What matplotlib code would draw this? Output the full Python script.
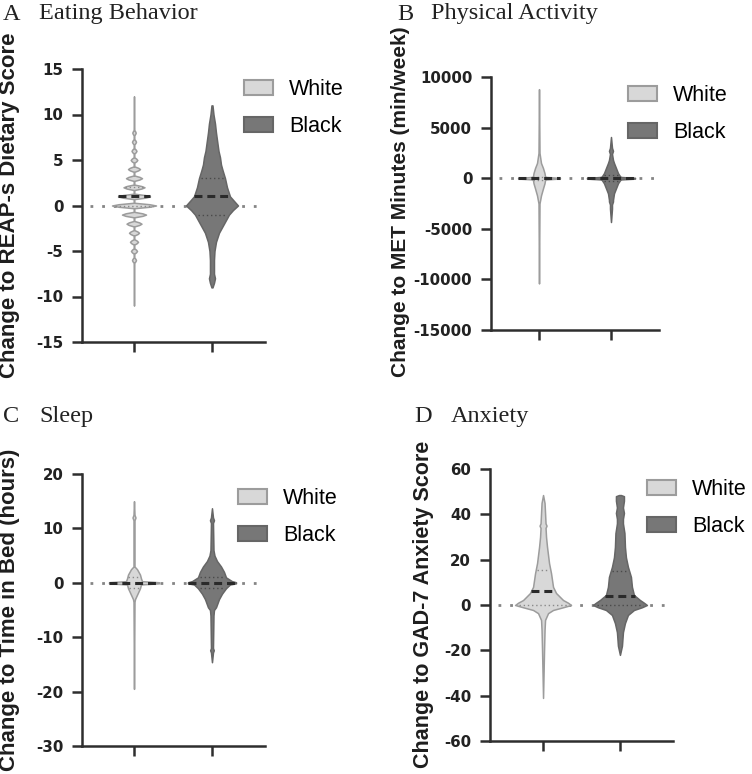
import numpy as np
import matplotlib.pyplot as plt
from matplotlib.patches import Patch

plt.rcParams['axes.unicode_minus'] = False

W, H = 752, 774

# ---- data: violin outlines as (value, half width in px) ----
groups = ['White', 'Black']

# A  Eating Behavior (REAP-s score change) - white group is integer valued
a_white_lvl = [8, 7, 6, 5, 4, 3, 2, 1, 0, -1, -2, -3, -4, -5, -6]
a_white_w = [1.7, 2, 2.5, 3.3, 6, 8, 10.5, 16, 22, 12, 7.5, 5, 4, 3, 2]
a_white_range = [-11, 12]
a_black_y = [11, 10, 9, 8, 7.2, 6, 5.3, 4.5, 3.9, 3, 2, 1, 0.5, 0, -0.5, -1, -2, -3, -4, -5, -6, -7, -7.5, -8, -8.5, -9]
a_black_w = [0.5, 1.5, 3, 4, 5, 6.5, 8, 9, 10.5, 13, 15, 18, 22, 26, 21, 17, 12, 7, 4, 2.5, 2, 2, 2, 3, 2, 0.5]
a_med = [1, 1]
a_quart = [(0, 2), (-1, 3)]

# B  Physical Activity (MET minutes/week change)
b_white_y = [8800, 2500, 1500, 1000, 500, 200, 120, 40, 0, -40, -120, -200, -500, -1000, -1700, -2500, -10400]
b_white_w = [0, 0.5, 2, 4, 5.5, 6, 7, 20, 21, 20, 7, 6, 5.5, 4, 2, 0.5, 0]
b_black_y = [4070, 3000, 2700, 2400, 1800, 1500, 1000, 500, 200, 120, 40, 0, -40, -120, -200, -500, -1000, -1500, -2150, -2300, -2600, -3000, -4330]
b_black_w = [0, 1, 2, 1, 2, 3, 5, 7, 9, 10, 24, 24, 24, 10, 9, 7, 5, 3, 2, 2, 1, 1, 0]
b_med = [0, 0]
b_quart = [(-150, 150), (-300, 300)]

# C  Sleep (time in bed change, hours)
c_white_y = [15, 12.5, 12, 11.5, 3, 2.5, 1.5, 0.8, 0.3, 0.1, 0, -0.1, -0.3, -1, -2, -3, -3.5, -19.5]
c_white_w = [0, 0.5, 1.5, 0.5, 0.5, 3, 6, 7, 8, 25, 25, 25, 7, 6, 3.5, 1, 0.5, 0]
c_black_y = [13.7, 12, 11.5, 11, 6, 5, 4, 3, 2, 1, 0.3, 0.1, 0, -0.1, -0.3, -1, -2, -3, -4, -4.5, -5, -6, -12, -12.4, -12.8, -14.6]
c_black_w = [0, 1, 2, 1, 1.5, 2.5, 5, 9, 12, 14, 20, 24, 24, 24, 18, 14, 10, 7, 5, 4, 2, 1.5, 1, 1.8, 1, 0]
c_med = [0, 0]
c_quart = [(-1, 1), (-1, 1)]

# D  Anxiety (GAD-7 score change)
d_white_y = [48.5, 45, 40.6, 36, 35, 34, 30, 25.6, 18.5, 14, 8, 5.3, 2.2, 1, 0, -1, -2.2, -3.6, -6.6, -11, -20, -41]
d_white_w = [0, 1.5, 2, 2.5, 3.5, 2.5, 3, 4, 6, 8, 10, 13, 20, 25, 28, 20, 10, 5, 2, 1.5, 1, 0]
d_black_y = [48.5, 48, 46, 43, 40.6, 38, 36, 31.7, 25.6, 21, 16.8, 12.4, 8, 4.4, 2.2, 1, 0, -1, -2.2, -4.4, -8, -12, -18, -22]
d_black_w = [1, 4, 4, 3, 4, 3, 3, 4.5, 5, 6, 8, 11, 12, 14, 20, 24, 27, 22, 14, 8, 5, 3, 2, 0]
d_med = [6, 4]
d_quart = [(0, 15.5), (0, 15)]

# ---- styles ----
face = {'White': '#d8d8d8', 'Black': '#777777'}
edge = {'White': '#9c9c9c', 'Black': '#666666'}
quart_col = {'White': '#8a8a8a', 'Black': '#4a4a4a'}
axcol = '#2e2e2e'
sans = 'Liberation Sans'
serif = 'Liberation Serif'


def fx(px):
    return px / W


def fy(py):
    return 1 - py / H


def spiky(levels, widths, lo, hi):
    # integer valued data: one lens shaped bump per value
    ys, ws = [lo, hi], [0, 0]
    for lv, w in zip(levels, widths):
        ys += [lv - 0.3, lv - 0.14, lv, lv + 0.14, lv + 0.3]
        ws += [0.3, 0.7 * w, w, 0.7 * w, 0.3]
    order = np.argsort(ys)
    return np.array(ys)[order], np.array(ws)[order]


def violin(ax, pos, y, w, ppu, grp):
    y = np.asarray(y, float)
    half = np.asarray(w, float) / ppu
    order = np.argsort(y)
    y, half = y[order], half[order]
    ax.fill_betweenx(y, pos - half, pos + half, facecolor=face[grp],
                     edgecolor=edge[grp], lw=1.1, zorder=3)
    return y, half


def stat_line(ax, pos, y, half, lv, grp, kind):
    hw = np.interp(lv, y, half)
    if kind == 'med':
        ax.plot([pos - hw, pos + hw], [lv, lv], color='#2a2a2a', lw=2.2,
                dashes=(2.6, 1.6), zorder=5, solid_capstyle='butt')
    else:
        ax.plot([pos - hw * 0.85, pos + hw * 0.85], [lv, lv], color=quart_col[grp],
                lw=1.0, dashes=(1, 2), zorder=4)


fig = plt.figure(figsize=(W / 100, H / 100), dpi=100)

panels = [
    dict(box=(82, 69, 265, 342), xlim=(0.333, 2.68), ylim=(-15, 15), step=5,
         ppu=78, med=a_med, quart=a_quart,
         letter='A', title='Eating Behavior', lpos=(3, 19.5), tpos=(39, 19.5),
         ylabel='Change to REAP-s Dietary Score', ylab=(10, 205), ysize=16,
         leg=(244, 79)),
    dict(box=(491, 77, 659, 330), xlim=(0.333, 2.667), ylim=(-15000, 10000), step=5000,
         ppu=72, med=b_med, quart=b_quart,
         letter='B', title='Physical Activity', lpos=(397, 19.5), tpos=(431, 19.5),
         ylabel='Change to MET Minutes (min/week)', ylab=(401, 202), ysize=15,
         leg=(628, 85)),
    dict(box=(82, 474, 265, 746), xlim=(0.333, 2.68), ylim=(-30, 20), step=10,
         ppu=78, med=c_med, quart=c_quart,
         letter='C', title='Sleep', lpos=(3, 422), tpos=(39, 422),
         ylabel='Change to Time in Bed (hours)', ylab=(10, 610), ysize=16,
         leg=(238, 488)),
    dict(box=(490, 469, 673, 741), xlim=(0.31, 2.69), ylim=(-60, 60), step=20,
         ppu=77, med=d_med, quart=d_quart,
         letter='D', title='Anxiety', lpos=(414, 422), tpos=(451, 422),
         ylabel='Change to GAD-7 Anxiety Score', ylab=(423, 604), ysize=15.5,
         leg=(647, 479)),
]

a_wy, a_ww = spiky(a_white_lvl, a_white_w, *a_white_range)
shapes = [
    [(a_wy, a_ww), (a_black_y, a_black_w)],
    [(b_white_y, b_white_w), (b_black_y, b_black_w)],
    [(c_white_y, c_white_w), (c_black_y, c_black_w)],
    [(d_white_y, d_white_w), (d_black_y, d_black_w)],
]

for p, shp in zip(panels, shapes):
    l, t, r, b = p['box']
    ax = fig.add_axes([fx(l), fy(b), fx(r) - fx(l), fy(t) - fy(b)])
    ax.set_xlim(*p['xlim'])
    ax.set_ylim(*p['ylim'])
    ax.patch.set_alpha(0)

    # dotted zero reference
    x0 = p['xlim'][0] + 8 / p['ppu']
    ax.plot([x0, p['xlim'][1]], [0, 0], color='#858585', lw=2.0,
            dashes=(1, 3.2), zorder=1)

    for i, (grp, (yy, ww)) in enumerate(zip(groups, shp)):
        pos = i + 1
        y, half = violin(ax, pos, yy, ww, p['ppu'], grp)
        for q in p['quart'][i]:
            stat_line(ax, pos, y, half, q, grp, 'quart')
        stat_line(ax, pos, y, half, p['med'][i], grp, 'med')

    for s in ['top', 'right']:
        ax.spines[s].set_visible(False)
    for s in ['left', 'bottom']:
        ax.spines[s].set_linewidth(1.8)
        ax.spines[s].set_color(axcol)
    ax.set_yticks(np.arange(p['ylim'][0], p['ylim'][1] + 1, p['step']))
    ax.set_xticks([1, 2])
    ax.set_xticklabels([])
    ax.tick_params(axis='both', direction='out', length=7.5, width=1.8,
                   color=axcol, pad=6)
    for lab in ax.get_yticklabels():
        lab.set_family('DejaVu Sans')
        lab.set_fontweight('bold')
        lab.set_fontsize(10.8)
        lab.set_color('#222222')

    # labels and panel titles
    fig.text(fx(p['ylab'][0]), fy(p['ylab'][1]), p['ylabel'], rotation=90,
             ha='center', va='center', family=sans, fontweight='bold',
             fontsize=p['ysize'], color='#1e1e1e')
    fig.text(fx(p['lpos'][0]), fy(p['lpos'][1]), p['letter'], family=serif,
             fontsize=17.5, va='baseline', ha='left', color='#222222')
    fig.text(fx(p['tpos'][0]), fy(p['tpos'][1]), p['title'], family=serif,
             fontsize=17.5, va='baseline', ha='left', color='#222222')

    handles = [Patch(facecolor=face[g], edgecolor=edge[g], lw=1.5, label=g)
               for g in groups]
    ax.legend(handles=handles, loc='upper left',
              bbox_to_anchor=(fx(p['leg'][0]), fy(p['leg'][1])),
              bbox_transform=fig.transFigure, frameon=False, borderpad=0,
              borderaxespad=0, handlelength=1.35, handleheight=0.75,
              handletextpad=0.75, labelspacing=0.74,
              prop=dict(family=sans, size=15.5))

fig.savefig('out.png', dpi=100)
